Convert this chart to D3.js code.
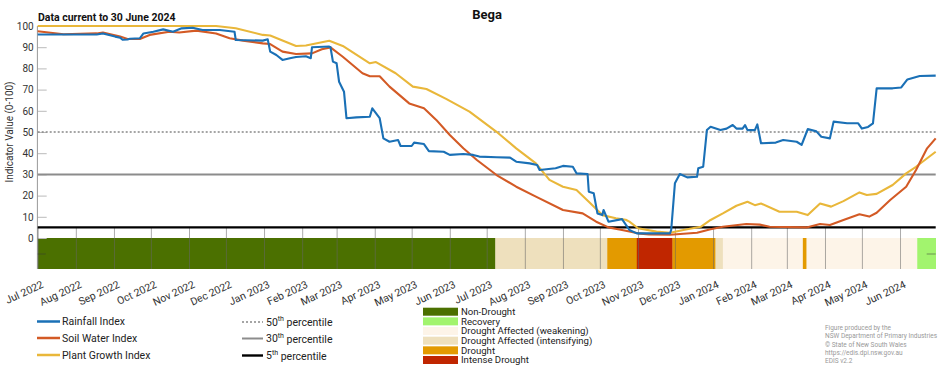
<html>
<head><meta charset="utf-8"></head>
<style>
  body { margin: 0; background: #fff; }
  svg text { font-family: Roboto, "Liberation Sans", sans-serif; }
</style>
<body>
<svg width="952" height="370"></svg>

<script src="https://cdn.jsdelivr.net/npm/d3@7/dist/d3.min.js"></script>
<script>
  // series: [date, index value]
  const rainfall = [
    ["2022-07-01", 96], ["2022-08-18", 96], ["2022-08-23", 96.5], ["2022-09-02", 95],
    ["2022-09-06", 94.5], ["2022-09-08", 93.5], ["2022-09-12", 93.6], ["2022-09-14", 94],
    ["2022-09-22", 94.2], ["2022-09-25", 96.5], ["2022-10-03", 97.3], ["2022-10-11", 98.4],
    ["2022-10-19", 97.3], ["2022-10-26", 98.9], ["2022-11-04", 99.2], ["2022-11-12", 98.1],
    ["2022-11-26", 98.1], ["2022-12-08", 97.3], ["2022-12-09", 93.4], ["2022-12-31", 93.1],
    ["2023-01-04", 93.7], ["2023-01-06", 87.9], ["2023-01-11", 86.3], ["2023-01-16", 84],
    ["2023-01-22", 84.8], ["2023-01-27", 85.4], ["2023-02-04", 85.7], ["2023-02-08", 84.8],
    ["2023-02-09", 90], ["2023-02-23", 90.3], ["2023-02-24", 90], ["2023-02-26", 83.2],
    ["2023-03-01", 82.4], ["2023-03-03", 73.7], ["2023-03-07", 69], ["2023-03-09", 56.5],
    ["2023-03-17", 56.9], ["2023-03-28", 57.2], ["2023-03-30", 61.2], ["2023-04-05", 56.5],
    ["2023-04-08", 47], ["2023-04-13", 45.4], ["2023-04-20", 46.2], ["2023-04-22", 43.4],
    ["2023-05-01", 43.4], ["2023-05-03", 45], ["2023-05-11", 44.3], ["2023-05-15", 41],
    ["2023-05-27", 40.7], ["2023-06-01", 39.2], ["2023-06-12", 39.6], ["2023-06-20", 39.2],
    ["2023-06-25", 38.4], ["2023-07-09", 38.1], ["2023-07-20", 37.9], ["2023-07-25", 36],
    ["2023-08-05", 35.2], ["2023-08-11", 34.4], ["2023-08-13", 32.1], ["2023-08-26", 32.9],
    ["2023-09-01", 34], ["2023-09-09", 33.6], ["2023-09-12", 30.5], ["2023-09-21", 30.2],
    ["2023-09-22", 21.8], ["2023-09-26", 21.1], ["2023-09-29", 11.6], ["2023-10-03", 10.8],
    ["2023-10-04", 13.2], ["2023-10-08", 7.7], ["2023-10-19", 8.9], ["2023-10-25", 3.8],
    ["2023-10-31", 2.2], ["2023-11-27", 2.2], ["2023-11-28", 3.8], ["2023-12-01", 25.8],
    ["2023-12-05", 30.2], ["2023-12-11", 28.6], ["2023-12-19", 28.9], ["2023-12-20", 32.9],
    ["2023-12-24", 33.6], ["2023-12-27", 50.9], ["2023-12-30", 52.5], ["2024-01-07", 50.9],
    ["2024-01-12", 51.6], ["2024-01-17", 53.3], ["2024-01-20", 51.6], ["2024-01-25", 51.6],
    ["2024-01-27", 53.3], ["2024-01-29", 50.9], ["2024-02-04", 50.9], ["2024-02-06", 53.6],
    ["2024-02-09", 44.7], ["2024-02-21", 45], ["2024-02-27", 46.2], ["2024-03-09", 45.4],
    ["2024-03-13", 43.9], ["2024-03-14", 45.4], ["2024-03-18", 51.4], ["2024-03-25", 50.3],
    ["2024-03-29", 47.8], ["2024-04-05", 47], ["2024-04-08", 54.9], ["2024-04-19", 54.1],
    ["2024-04-28", 54.1], ["2024-05-01", 51.6], ["2024-05-06", 52.4], ["2024-05-10", 54.1],
    ["2024-05-13", 70.6], ["2024-05-26", 70.6], ["2024-06-02", 71], ["2024-06-07", 74.8],
    ["2024-06-17", 76.4], ["2024-06-30", 76.6]
  ];

  const soilWater = [
    ["2022-07-01", 97.5], ["2022-07-22", 96.1], ["2022-08-18", 96.5], ["2022-08-23", 96.9],
    ["2022-09-06", 95], ["2022-09-12", 93.9], ["2022-09-22", 93.9], ["2022-09-30", 95.8],
    ["2022-10-16", 97.3], ["2022-10-24", 96.9], ["2022-11-07", 97.8], ["2022-11-23", 96.5],
    ["2022-12-04", 94.2], ["2022-12-15", 93.1], ["2022-12-31", 91.8], ["2023-01-06", 91.5],
    ["2023-01-16", 87.9], ["2023-01-27", 86.8], ["2023-02-09", 87.1], ["2023-02-17", 89],
    ["2023-02-24", 89.9], ["2023-03-06", 85.5], ["2023-03-22", 77.7], ["2023-03-28", 76.3],
    ["2023-04-05", 76.3], ["2023-04-13", 71.4], ["2023-04-29", 63.5], ["2023-05-11", 61.2],
    ["2023-05-21", 55.7], ["2023-06-01", 48.6], ["2023-06-12", 42.3], ["2023-06-23", 36.8],
    ["2023-07-09", 29.7], ["2023-07-25", 24.2], ["2023-08-10", 19.5], ["2023-09-01", 13.2],
    ["2023-09-17", 11.6], ["2023-09-28", 7.7], ["2023-10-08", 5.0], ["2023-10-19", 3.8],
    ["2023-11-01", 2.2], ["2023-11-10", 1.7], ["2023-11-27", 1.5], ["2023-12-19", 2.5],
    ["2023-12-30", 4.1], ["2024-01-09", 5.3], ["2024-01-28", 6.6], ["2024-02-08", 6.3],
    ["2024-02-16", 5.3], ["2024-03-17", 5.0], ["2024-03-28", 6.6], ["2024-04-05", 6.1],
    ["2024-04-16", 8.5], ["2024-04-29", 11.2], ["2024-05-07", 10.1], ["2024-05-13", 11.9],
    ["2024-05-24", 17.9], ["2024-06-06", 24.2], ["2024-06-14", 32.1], ["2024-06-23", 42.3],
    ["2024-06-30", 47]
  ];

  const plantGrowth = [
    ["2022-07-01", 100], ["2022-11-23", 100], ["2022-12-09", 98.9], ["2022-12-31", 95.8],
    ["2023-01-06", 95.5], ["2023-01-27", 90.6], ["2023-02-04", 90.8], ["2023-02-23", 93],
    ["2023-03-06", 90.6], ["2023-03-28", 82.4], ["2023-04-02", 83], ["2023-04-18", 77.7],
    ["2023-05-02", 71.4], ["2023-05-13", 70.3], ["2023-05-29", 65.6], ["2023-06-17", 59.6],
    ["2023-07-09", 50.1], ["2023-07-25", 42.3], ["2023-08-10", 35.2], ["2023-08-21", 27.4],
    ["2023-09-01", 24.2], ["2023-09-12", 22.6], ["2023-09-22", 17.1], ["2023-10-03", 10.8],
    ["2023-10-14", 9.3], ["2023-10-22", 8.6], ["2023-10-25", 7.7], ["2023-11-01", 4.6],
    ["2023-11-16", 3.0], ["2023-11-27", 2.5], ["2023-12-11", 4.1], ["2023-12-22", 5.3],
    ["2023-12-30", 8.5], ["2024-01-09", 11.6], ["2024-01-20", 15.2], ["2024-01-29", 17.1],
    ["2024-02-04", 15.5], ["2024-02-09", 16.3], ["2024-02-24", 12.4], ["2024-03-09", 12.4],
    ["2024-03-18", 10.8], ["2024-03-28", 16.3], ["2024-04-06", 14.8], ["2024-04-16", 17.4],
    ["2024-04-29", 21.5], ["2024-05-05", 20.3], ["2024-05-13", 20.8], ["2024-05-26", 25],
    ["2024-06-06", 30.5], ["2024-06-14", 33.6], ["2024-06-30", 40.7]
  ];

  // drought status band: start date of each run and its category
  const bandStarts = ["2022-07-01", "2023-07-08", "2023-10-07", "2023-10-31", "2023-11-29",
                      "2024-01-03", "2024-01-09", "2024-03-14", "2024-03-17", "2024-06-15"];
  const bandStates = ["Non-Drought", "Drought Affected (intensifying)", "Drought", "Intense Drought", "Drought",
                      "Drought Affected (intensifying)", "Drought Affected (weakening)", "Drought",
                      "Drought Affected (weakening)", "Recovery"];
  const bandEnd = "2024-06-30";

  const stateNames = ["Non-Drought", "Recovery", "Drought Affected (weakening)",
                      "Drought Affected (intensifying)", "Drought", "Intense Drought"];
  const stateColours = ["#4b7000", "#a2f46e", "#fdf4e8", "#eee0bd", "#e39a00", "#c02600"];

  const seriesNames = ["Rainfall Index", "Soil Water Index", "Plant Growth Index"];
  const seriesColours = ["#1a70b6", "#d35a25", "#e9b73a"];

  const percentiles = [50, 30, 5];
  const percentileLabels = ["50", "30", "5"];

  const monthTicks = ["2022-07-01", "2022-08-01", "2022-09-01", "2022-10-01", "2022-11-01", "2022-12-01",
                      "2023-01-01", "2023-02-01", "2023-03-01", "2023-04-01", "2023-05-01", "2023-06-01",
                      "2023-07-01", "2023-08-01", "2023-09-01", "2023-10-01", "2023-11-01", "2023-12-01",
                      "2024-01-01", "2024-02-01", "2024-03-01", "2024-04-01", "2024-05-01", "2024-06-01"];
  const yTicks = [0, 10, 20, 30, 40, 50, 60, 70, 80, 90, 100];

  const footer = ["Figure produced by the", "NSW Department of Primary Industries",
                  "\u00a9 State of New South Wales", "https://edis.dpi.nsw.gov.au", "EDIS v2.2"];

  const parse = d3.timeParse("%Y-%m-%d");
  const svg = d3.select("svg");

  const plotLeft = 37.7, plotRight = 935.7, plotTop = 26, zeroY = 238, bandBottom = 269;

  const x = d3.scaleTime()
      .domain([parse("2022-07-01"), parse("2024-06-30")])
      .range([plotLeft, plotRight]);
  const y = d3.scaleLinear().domain([0, 100]).range([zeroY, plotTop]);

  // drought band
  const stateColour = d3.scaleOrdinal().domain(stateNames).range(stateColours);
  const runs = bandStarts.map((s, i) => ({
    start: parse(s),
    end: parse(i < bandStarts.length - 1 ? bandStarts[i + 1] : bandEnd),
    state: bandStates[i]
  }));
  svg.append("g").selectAll("rect").data(runs).join("rect")
      .attr("x", d => x(d.start))
      .attr("width", d => x(d.end) - x(d.start) + 0.3)
      .attr("y", zeroY)
      .attr("height", bandBottom - zeroY)
      .attr("fill", d => stateColour(d.state));

  // y axis
  const yAxis = svg.append("g")
      .attr("transform", `translate(${plotLeft},0)`)
      .call(d3.axisLeft(y).tickValues(yTicks).tickSize(-9).tickSizeOuter(0).tickPadding(4));
  yAxis.selectAll(".tick line").attr("stroke", "#bbb");
  yAxis.select(".domain").remove();
  yAxis.selectAll("text").attr("font-size", 10).attr("fill", "#333");
  svg.append("line")
      .attr("x1", plotLeft - 0.3).attr("x2", plotLeft - 0.3)
      .attr("y1", plotTop).attr("y2", bandBottom)
      .attr("stroke", "#999");

  svg.append("text")
      .attr("transform", "translate(13,132) rotate(-90)")
      .attr("text-anchor", "middle")
      .attr("font-size", 10)
      .attr("fill", "#333")
      .text("Indicator Value (0-100)");

  // x axis: month ticks through the band
  const xAxis = svg.append("g")
      .attr("transform", `translate(0,${bandBottom})`)
      .call(d3.axisBottom(x).tickValues(monthTicks.map(parse))
        .tickFormat(d3.timeFormat("%b %Y")).tickSizeInner(-(bandBottom - 228)).tickSizeOuter(0));
  xAxis.select(".domain").remove();
  xAxis.selectAll(".tick line").attr("stroke", "#666").attr("stroke-opacity", 0.55);
  xAxis.selectAll(".tick text")
      .attr("text-anchor", "end")
      .attr("font-size", 10.5)
      .attr("fill", "#333")
      .attr("dy", 0)
      .attr("y", 0)
      .attr("transform", "translate(6,18) rotate(-25)");

  // small marks at the band middle on both sides
  svg.append("line").attr("x1", plotLeft).attr("x2", plotLeft + 8).attr("y1", 254).attr("y2", 254)
      .attr("stroke", "#333").attr("stroke-opacity", 0.5);
  svg.append("line").attr("x1", plotRight - 9).attr("x2", plotRight).attr("y1", 254).attr("y2", 254)
      .attr("stroke", "#333").attr("stroke-opacity", 0.5);

  // percentile lines
  const pStyle = [
    { stroke: "#888", width: 1.6, dash: "2,2" },
    { stroke: "#8c8c8c", width: 2, dash: null },
    { stroke: "#000", width: 2.4, dash: null }
  ];
  svg.append("g").selectAll("line").data(percentiles).join("line")
      .attr("x1", plotLeft).attr("x2", plotRight)
      .attr("y1", d => y(d)).attr("y2", d => y(d))
      .attr("stroke", (d, i) => pStyle[i].stroke)
      .attr("stroke-width", (d, i) => pStyle[i].width)
      .attr("stroke-dasharray", (d, i) => pStyle[i].dash);

  // index lines
  const line = d3.line().x(d => x(parse(d[0]))).y(d => y(d[1]));
  const series = [plantGrowth, soilWater, rainfall];
  const seriesCol = [seriesColours[2], seriesColours[1], seriesColours[0]];
  svg.append("g").selectAll("path").data(series).join("path")
      .attr("d", line)
      .attr("fill", "none")
      .attr("stroke", (d, i) => seriesCol[i])
      .attr("stroke-width", 2.1)
      .attr("stroke-linejoin", "round");

  // titles
  svg.append("text").attr("x", 487).attr("y", 19).attr("text-anchor", "middle")
      .attr("font-size", 13).attr("font-weight", "bold").attr("fill", "#111").text("Bega");
  svg.append("text").attr("x", 38).attr("y", 21)
      .attr("font-size", 10.5).attr("font-weight", "bold").attr("fill", "#111")
      .text("Data current to 30 June 2024");

  // legend: index series
  const legY = [321.5, 338, 355];
  const leg1 = svg.append("g").selectAll("g").data(seriesNames).join("g")
      .attr("transform", (d, i) => `translate(37,${legY[i]})`);
  leg1.append("line").attr("x1", 0).attr("x2", 23)
      .attr("stroke", (d, i) => seriesColours[i]).attr("stroke-width", 2.5);
  leg1.append("text").attr("x", 25).attr("dy", "0.35em")
      .attr("font-size", 10.5).attr("fill", "#222").text(d => d);

  // legend: percentiles
  const leg2 = svg.append("g").selectAll("g").data(percentileLabels).join("g")
      .attr("transform", (d, i) => `translate(242,${legY[i] + 0.5})`);
  leg2.append("line").attr("x1", 0).attr("x2", 21)
      .attr("stroke", (d, i) => pStyle[i].stroke)
      .attr("stroke-width", (d, i) => pStyle[i].width)
      .attr("stroke-dasharray", (d, i) => pStyle[i].dash);
  const lt = leg2.append("text").attr("x", 24).attr("dy", "0.35em")
      .attr("font-size", 10.5).attr("fill", "#222");
  lt.append("tspan").text(d => d);
  lt.append("tspan").attr("font-size", 7).attr("dy", "-0.6em").text("th");
  lt.append("tspan").attr("dy", "0.45em").text(" percentile");

  // legend: drought states
  const leg3 = svg.append("g").selectAll("g").data(stateNames).join("g")
      .attr("transform", (d, i) => `translate(423,${311.7 + i * 9.66})`);
  leg3.append("rect").attr("x", 0).attr("y", -4).attr("width", 35).attr("height", 8)
      .attr("fill", (d, i) => stateColours[i]);
  leg3.append("text").attr("x", 38).attr("dy", "0.35em")
      .attr("font-size", 9.6).attr("fill", "#222").text(d => d);

  // footer
  svg.append("g").selectAll("text").data(footer).join("text")
      .attr("x", 825).attr("y", (d, i) => 330 + i * 8.3)
      .attr("font-size", 6.5).attr("fill", "#999").text(d => d);
</script>
</body>
</html>
